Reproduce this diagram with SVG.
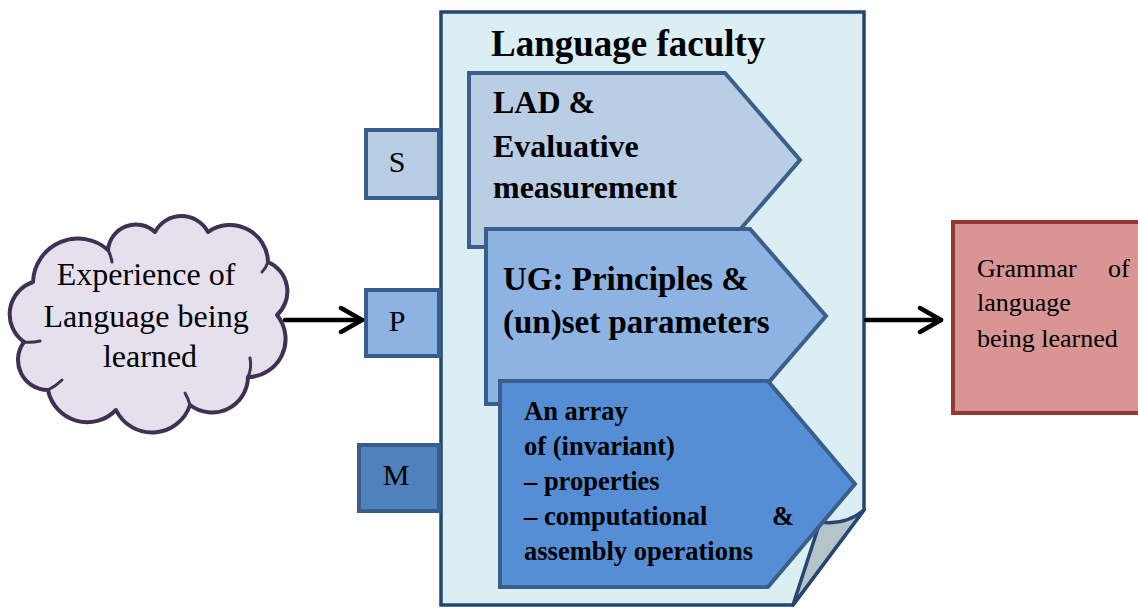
<svg xmlns="http://www.w3.org/2000/svg" width="1138" height="608" viewBox="0 0 1138 608">
  <style>
    .label { fill: #000; font-family: 'Liberation Serif', 'Times New Roman', serif; }
    .bold { font-weight: bold; }
    .pent { stroke: #3a5f8c; stroke-width: 4; stroke-linejoin: miter; }
    .tab { stroke: #385d8a; stroke-width: 4; }
    .conn { stroke: #000; stroke-width: 4.5; fill: none; stroke-linecap: round; }
  </style>
  <defs>
    <marker id="open-arrow" markerUnits="userSpaceOnUse" markerWidth="30" markerHeight="34" refX="24" refY="15" orient="auto" viewBox="0 0 30 30">
      <path d="M3,3 L24,15 L3,27" fill="none" stroke="#000" stroke-width="4.5" stroke-linecap="round" stroke-linejoin="round"/>
    </marker>
  </defs>
  <rect width="1138" height="608" fill="#fff"/>

  <!-- input cloud -->
  <g id="experience">
    <path d="M33,282 A45,45 0 0 1 108,250 A28,28 0 0 1 155,232 A30,30 0 0 1 208,232 A38,38 0 0 1 268,262 A32,32 0 0 1 277,315 A38,38 0 0 1 248,377 A36,36 0 0 1 190,405 A40,40 0 0 1 116,410 A40,40 0 0 1 48,390 A30,30 0 0 1 24,342 A34,34 0 0 1 33,282 Z" fill="#e6e0ec" stroke="#3f3151" stroke-width="4" stroke-linejoin="round"/>
    <g fill="none" stroke="#3f3151" stroke-width="3" stroke-linecap="round">
      <path d="M108,250 Q111,256 112,262"/>
      <path d="M268,262 Q266,268 262,272"/>
      <path d="M248,377 Q252,368 250,358"/>
      <path d="M190,405 Q188,398 185,393"/>
      <path d="M48,390 Q56,386 62,380"/>
      <path d="M24,342 Q32,343 40,341"/>
    </g>
    <text class="label" font-size="32" text-anchor="middle">
      <tspan x="150" y="285">Experience of</tspan>
      <tspan x="150" y="327">Language being</tspan>
      <tspan x="150" y="367">learned</tspan>
    </text>
  </g>

  <!-- language faculty page with curled corner -->
  <g id="language-faculty">
    <path d="M441,12 H864 V510 L793,605 H441 Z" fill="#daeef3" stroke="#254670" stroke-width="3.5" stroke-linejoin="miter"/>
    <path d="M864,510 C850,522 835,524 820,522 L793,605 Z" fill="#b6c4c9" stroke="#254670" stroke-width="3.5" stroke-linejoin="round"/>
    <text class="label bold" font-size="37" x="491" y="56">Language faculty</text>
  </g>

  <!-- side tabs -->
  <g id="tab-s">
    <rect class="tab" x="366" y="130" width="73" height="68" fill="#b9cde5"/>
    <text class="label" font-size="30" x="397" y="172" text-anchor="middle">S</text>
  </g>
  <g id="tab-p">
    <rect class="tab" x="366" y="290" width="73" height="66" fill="#8db3e2"/>
    <text class="label" font-size="30" x="397" y="331" text-anchor="middle">P</text>
  </g>
  <g id="tab-m">
    <rect class="tab" x="359" y="445" width="80" height="66" fill="#4f81bd"/>
    <text class="label" font-size="30" x="396" y="485" text-anchor="middle">M</text>
  </g>

  <!-- stacked components -->
  <g id="lad">
    <path class="pent" d="M469,73 H725 L800,160 L725,247 H469 Z" fill="#b9cde5"/>
    <text class="label bold" font-size="32">
      <tspan x="493" y="113">LAD &amp;</tspan>
      <tspan x="493" y="157">Evaluative</tspan>
      <tspan x="493" y="198">measurement</tspan>
    </text>
  </g>
  <g id="ug">
    <path class="pent" d="M486,229 H750 L826,316 L750,404 H486 Z" fill="#8db3e2"/>
    <text class="label bold" font-size="33">
      <tspan x="503" y="290">UG: Principles &amp;</tspan>
      <tspan x="503" y="333">(un)set parameters</tspan>
    </text>
  </g>
  <g id="properties">
    <path class="pent" d="M500,381 H768 L855,484 L768,587 H500 Z" fill="#558ed5"/>
    <text class="label bold" font-size="26.5">
      <tspan x="524" y="420">An array</tspan>
      <tspan x="524" y="455">of (invariant)</tspan>
      <tspan x="524" y="490">– properties</tspan>
      <tspan x="524" y="525">– computational</tspan>
      <tspan x="772" y="525">&amp;</tspan>
      <tspan x="524" y="560">assembly operations</tspan>
    </text>
  </g>

  <!-- output grammar -->
  <g id="grammar">
    <rect x="953" y="222" width="190" height="191" fill="#d99594" stroke="#953735" stroke-width="4"/>
    <text class="label" font-size="26">
      <tspan x="977" y="277">Grammar</tspan>
      <tspan x="1108" y="277">of</tspan>
      <tspan x="977" y="311">language</tspan>
      <tspan x="977" y="347">being learned</tspan>
    </text>
  </g>

  <!-- connectors -->
  <g id="connectors">
    <line class="conn" x1="285" y1="320" x2="362" y2="320" marker-end="url(#open-arrow)"/>
    <line class="conn" x1="866" y1="320" x2="941" y2="320" marker-end="url(#open-arrow)"/>
  </g>
</svg>
